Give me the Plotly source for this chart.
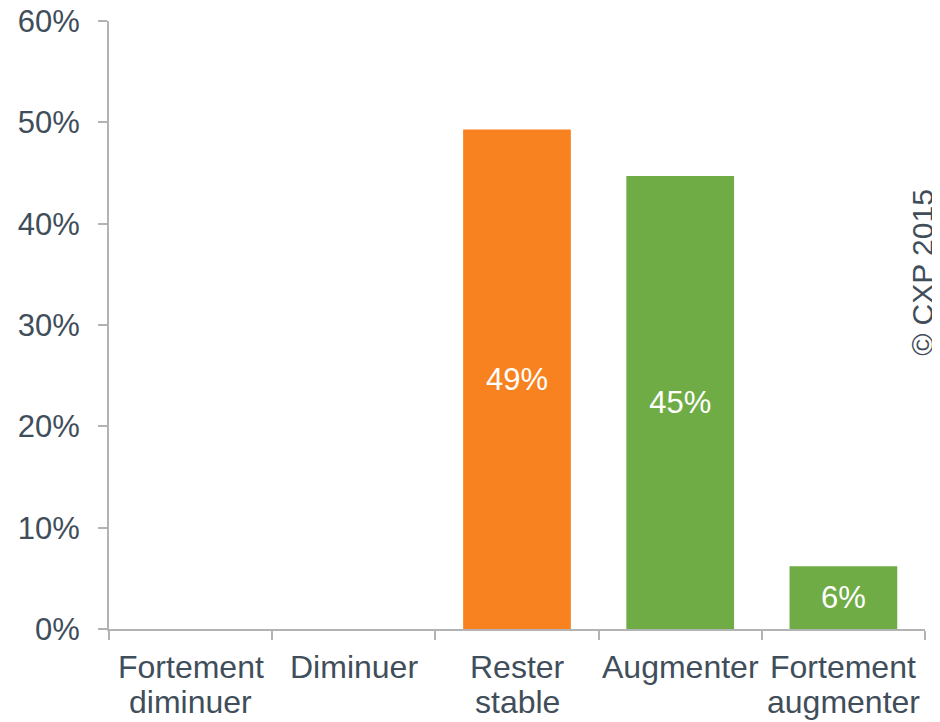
import plotly.graph_objects as go

categories = ["Fortement diminuer", "Diminuer", "Rester stable", "Augmenter", "Fortement augmenter"]
label_line1 = ["Fortement", "Diminuer", "Rester", "Augmenter", "Fortement"]
label_line2 = ["diminuer", "", "stable", "", "augmenter"]
values = [0, 0, 49.3, 44.7, 6.2]
labels = ["", "", "49%", "45%", "6%"]
colors = ["#F7821F", "#F7821F", "#F7821F", "#6FAC46", "#6FAC46"]

TXT = "#3F4E5A"
AX = "#B3B3B3"
FONT = "Liberation Sans, Arial, sans-serif"

fig = go.Figure()
fig.add_trace(go.Bar(
    x=categories, y=values, text=labels,
    marker=dict(color=colors, line=dict(width=0)),
    textposition="inside", insidetextanchor="middle",
    textfont=dict(color="white", size=31, family=FONT),
    textangle=0, cliponaxis=False, hoverinfo="skip",
))

for cat, l1, l2 in zip(categories, label_line1, label_line2):
    fig.add_annotation(text=l1, x=cat, xref="x", y=0, yref="paper", yanchor="middle",
                       yshift=-38, showarrow=False, font=dict(size=32, color=TXT, family=FONT))
    if l2:
        fig.add_annotation(text=l2, x=cat, xref="x", y=0, yref="paper", yanchor="middle",
                           yshift=-73, showarrow=False, font=dict(size=32, color=TXT, family=FONT))

fig.add_annotation(
    text="© CXP 2015", xref="paper", yref="paper", x=0.996, y=0.587,
    xanchor="center", yanchor="middle",
    textangle=-90, showarrow=False, font=dict(size=30, color=TXT, family=FONT),
)

fig.update_layout(
    width=932, height=714,
    margin=dict(l=101, r=15, t=13, b=93, autoexpand=False),
    paper_bgcolor="white", plot_bgcolor="white",
    bargap=0.34, showlegend=False,
    font=dict(family=FONT, color=TXT, size=31),
    uniformtext=dict(mode=False),
)
fig.update_xaxes(
    type="category", showline=True, linecolor=AX, linewidth=2, automargin=False,
    ticks="outside", tickson="boundaries", ticklen=9, tickcolor=AX, tickwidth=2,
    showgrid=False, showticklabels=False,
)
fig.update_yaxes(
    range=[0, 60], dtick=10, ticksuffix="%", showline=True, linecolor=AX, linewidth=2,
    ticks="outside", ticklen=9, tickcolor=AX, tickwidth=2, showgrid=False, zeroline=False,
    automargin=False, ticklabeloverflow="allow",
    tickfont=dict(size=31, color=TXT, family=FONT), ticklabelstandoff=12,
)

fig.write_html("out.html")
